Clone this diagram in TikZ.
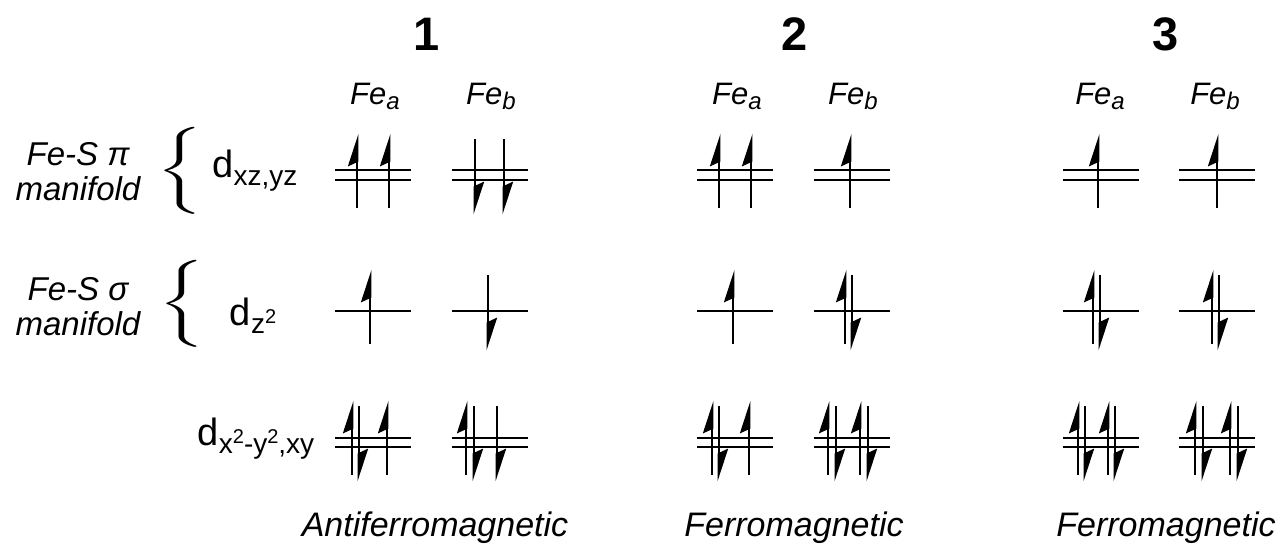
\documentclass[tikz,border=0pt]{standalone}
\usepackage{fontspec}
\setmainfont{Liberation Sans}
\usepackage{graphicx}
\usetikzlibrary{arrows.meta}
\newcommand{\dsub}[1]{\raisebox{-4pt}{\fontsize{14}{14}\selectfont #1}}
\newcommand{\dsup}[1]{\raisebox{5pt}{\fontsize{10}{10}\selectfont #1}}
\newcommand{\fesub}[1]{\raisebox{-2.5pt}{\fontsize{12}{12}\selectfont #1}}
\newcommand{\manibrace}{\scalebox{2.9}[1.45]{$\left\{\vcenter{\hbox{\vrule height 28pt width 0pt}}\right.$}}

\begin{document}
\begin{tikzpicture}[x=0.5pt, y=-0.5pt,
    title/.style={font=\fontsize{23.5}{26}\selectfont\bfseries, anchor=base},
    atom/.style={font=\fontsize{15.5}{17}\selectfont\itshape, anchor=base},
    orb/.style={font=\fontsize{19}{22}\selectfont, anchor=base, inner sep=1pt},
    manif/.style={font=\fontsize{16.5}{17.5}\selectfont\itshape, align=center, inner sep=1pt},
    brace/.style={inner sep=0pt},
    order/.style={font=\fontsize{17}{20}\selectfont\itshape, anchor=base},
    level/.style={line width=1.35pt},
    spin/.style={line width=1.35pt, -{Stealth[left, length=14pt, width=9pt, inset=2pt]}}
]
\useasboundingbox (0,0) rectangle (1279,543);

% headings
\node[title] (t1) at (427,50)  {1};
\node[title] (t2) at (795,50)  {2};
\node[title] (t3) at (1166,50) {3};
\node[atom] (fea1) at (375,104)  {Fe\fesub{a}};
\node[atom] (feb1) at (491,104)  {Fe\fesub{b}};
\node[atom] (fea2) at (737,104)  {Fe\fesub{a}};
\node[atom] (feb2) at (853,104)  {Fe\fesub{b}};
\node[atom] (fea3) at (1100,104) {Fe\fesub{a}};
\node[atom] (feb3) at (1215,104) {Fe\fesub{b}};

% manifolds and orbitals
\node[manif] (pilab)    at (78,172) {Fe-S π\\manifold};
\node[manif] (sigmalab) at (78,307) {Fe-S σ\\manifold};
\node[brace] (pibrace)    at (183,171) {\manibrace};
\node[brace] (sigmabrace) at (185,304) {\manibrace};
\node[orb] (dpi)    at (255,177) {d\dsub{xz,yz}};
\node[orb] (dsigma) at (253,325) {d\dsub{z\dsup{2}}};
\node[orb] (dnb)    at (256,445) {d\dsub{x\dsup{2}-y\dsup{2},xy}};

% levels
\foreach \c in {373,490,735,851.5,1100.5,1217} {
  \draw[level] (\c-38,170) -- (\c+38,170) (\c-38,180) -- (\c+38,180);
  \draw[level] (\c-38,311) -- (\c+38,311);
  \draw[level] (\c-38,438) -- (\c+38,438) (\c-38,447) -- (\c+38,447);
}

% electrons
\foreach \x/\y in {357/175, 389/175, 370/311, 352/442, 387/442, 466/442,
    719/175, 751/175, 850/175, 733/311, 845/311, 712/442, 749/442, 828/442, 860/442,
    1098/175, 1217/175, 1093/311, 1212/311, 1078/442, 1108/442, 1195/442, 1230/442}
  \draw[spin] (\x,\y+33) -- (\x,\y-41);
\foreach \x/\y in {475/175, 504/175, 488/311, 359/442, 474/442, 497/442,
    852/311, 719/442, 836/442, 868/442,
    1100/311, 1219/311, 1085/442, 1115/442, 1203/442, 1238/442}
  \draw[spin] (\x,\y-36) -- (\x,\y+39);

% coupling
\node[order] (ord1) at (435,536)  {Antiferromagnetic};
\node[order] (ord2) at (794,536)  {Ferromagnetic};
\node[order] (ord3) at (1166,536) {Ferromagnetic};
\end{tikzpicture}
\end{document}
